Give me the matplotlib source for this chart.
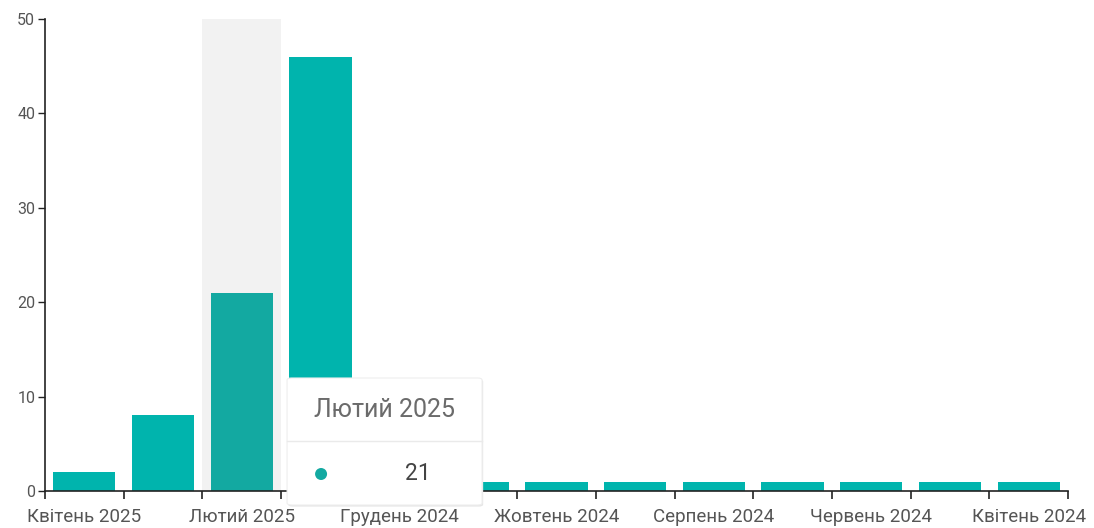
import matplotlib
matplotlib.use("Agg")
import matplotlib.pyplot as plt
from matplotlib.patches import FancyBboxPatch, Ellipse
from matplotlib.lines import Line2D

plt.rcParams["font.family"] = ["Roboto", "DejaVu Sans"]

months = [
    "Квітень 2025", "Березень 2025", "Лютий 2025", "Січень 2025",
    "Грудень 2024", "Листопад 2024", "Жовтень 2024", "Вересень 2024",
    "Серпень 2024", "Липень 2024", "Червень 2024", "Травень 2024",
    "Квітень 2024",
]
counts = [2, 8, 21, 46, 1, 1, 1, 1, 1, 1, 1, 1, 1]
hover_idx = 2  # bar under the cursor (tooltip shown)

BAR = "#00b4ad"
BAR_HOVER = "#13a9a1"
TXT = "#555555"

fig = plt.figure(figsize=(10.94, 5.28), dpi=100)
ax = fig.add_axes([45 / 1094, 1 - 491 / 528, (1068 - 45) / 1094, (491 - 19) / 528])

x = list(range(len(months)))
# highlight band behind hovered bar
ax.axvspan(hover_idx - 0.5, hover_idx + 0.5, color="#f2f2f2", zorder=0, lw=0)
colors = [BAR_HOVER if i == hover_idx else BAR for i in x]
ax.bar(x, counts, width=0.79, color=colors, zorder=2)

ax.set_xlim(-0.5, len(months) - 0.5)
ax.set_ylim(0, 50)
ax.set_yticks([0, 10, 20, 30, 40, 50])

ax.set_xticks(x[::2])
ax.set_xticklabels(months[::2])
ax.set_xticks([i - 0.5 for i in range(len(months) + 1)], minor=True)
ax.tick_params(axis="x", which="major", length=0, pad=12, labelsize=13.5, labelcolor=TXT)
ax.tick_params(axis="x", which="minor", length=6, width=1.2, color="#222222")
ax.tick_params(axis="y", length=5, width=1, color="#222222", labelsize=11.5,
               labelcolor=TXT, pad=2)

for s in ["top", "right"]:
    ax.spines[s].set_visible(False)
for s in ["left", "bottom"]:
    ax.spines[s].set_color("#222222")
    ax.spines[s].set_linewidth(1.2)

# tooltip for hovered bar
fig.canvas.draw()
px, _ = ax.transData.transform((hover_idx + 0.5, 0))
left = px + 6
W, H = fig.get_size_inches() * fig.dpi
tx0, ty0, tw, th = left / W, 23 / H, 195 / W, 127 / H
shadow = FancyBboxPatch((tx0 + 0.001, ty0 - 0.003), tw, th,
                        boxstyle="round,pad=0,rounding_size=0.004",
                        transform=fig.transFigure, fc="#e6e6e6", ec="none", zorder=9)
box = FancyBboxPatch((tx0, ty0), tw, th,
                     boxstyle="round,pad=0,rounding_size=0.004",
                     transform=fig.transFigure, fc="white", ec="#eeeeee", lw=0.8, zorder=10)
fig.patches.extend([shadow, box])
sep_y = ty0 + th - 63 / H
fig.lines.append(Line2D([tx0, tx0 + tw], [sep_y, sep_y], transform=fig.transFigure,
                        color="#eaeaea", lw=1, zorder=11))
fig.text(tx0 + tw / 2, ty0 + th - 32 / H, months[hover_idx], ha="center", va="center",
         fontsize=18, color="#6b6b6b", zorder=12)
fig.patches.append(Ellipse((tx0 + 34 / W, ty0 + 31 / H), 12 / W, 12 / H,
                           transform=fig.transFigure, fc=BAR_HOVER, ec="none", zorder=12))
fig.text(tx0 + 131 / W, ty0 + 31 / H, str(counts[hover_idx]), ha="center", va="center",
         fontsize=16.5, color="#444444", zorder=12)

fig.savefig("out.png", dpi=100)
